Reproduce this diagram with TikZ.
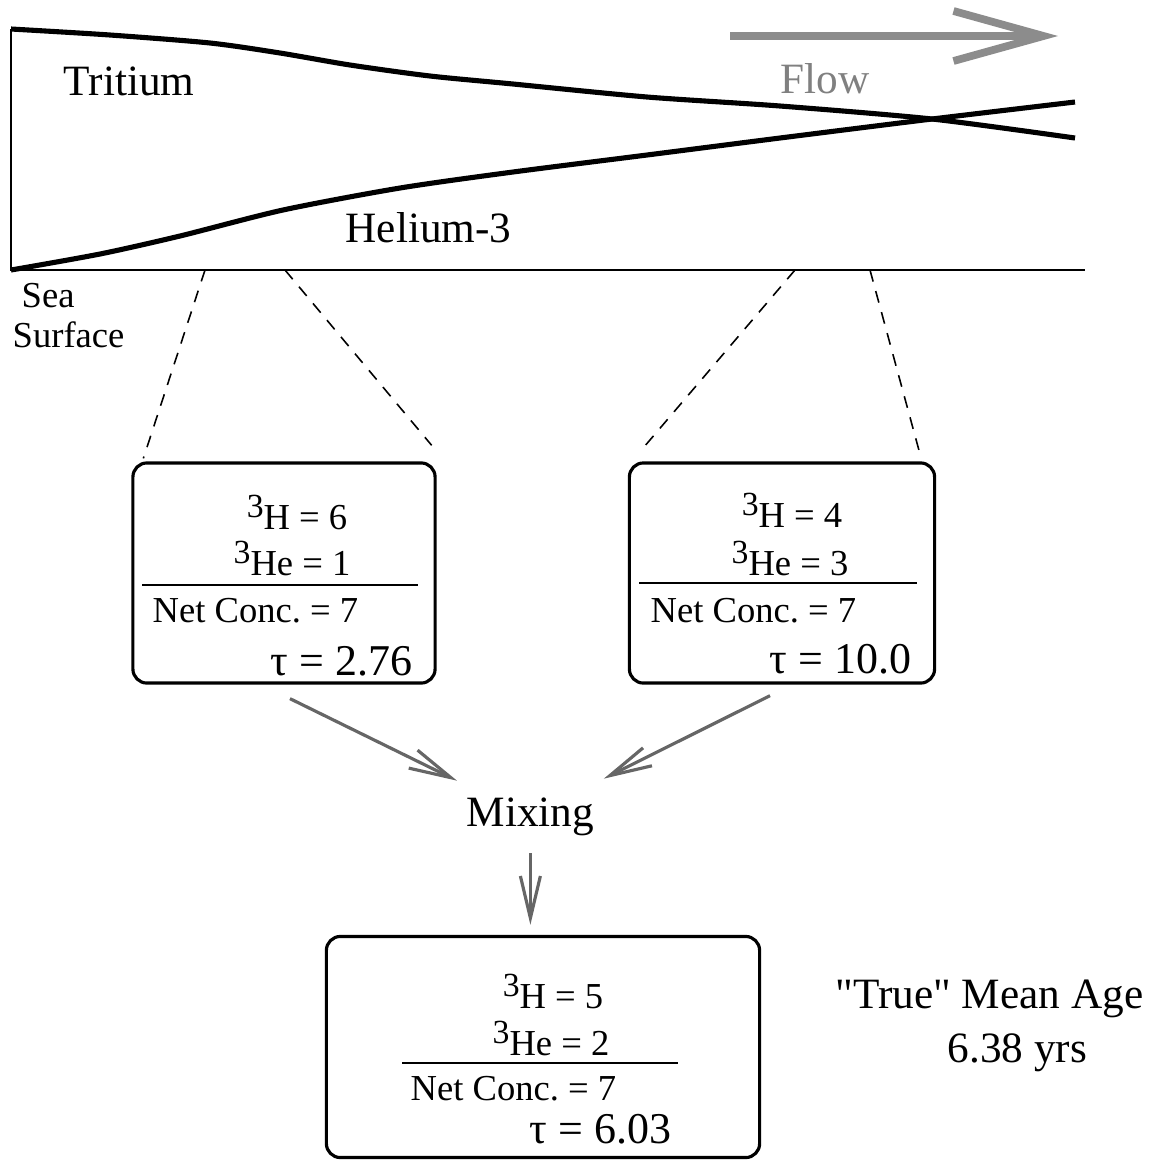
\documentclass[tikz,border=0pt]{standalone}
\usepackage{fontspec}
\setmainfont{Liberation Serif}
\usetikzlibrary{arrows.meta}
\frenchspacing

\newcommand{\isot}[1]{\raisebox{0.32em}{\fontsize{9.6}{10}\selectfont #1}}

\tikzset{
  lbl/.style={font=\fontsize{12.3}{14}\selectfont,inner sep=0pt},
  small/.style={font=\fontsize{10.4}{12}\selectfont,inner sep=0pt},
  tau/.style={font=\fontsize{12.5}{14}\selectfont,inner sep=0pt},
  rbox/.style={draw,rectangle,rounded corners=0.14cm,line width=0.9pt},
  zoomline/.style={dash pattern=on 3.4pt off 2.8pt,line width=0.45pt},
  mixarrow/.style={draw=black!60,line width=0.9pt,-{Straight Barb[length=0.42cm,width=0.2cm]}},
}

\begin{document}
\begin{tikzpicture}[x=0.01cm,y=-0.01cm]
\useasboundingbox (0,0) rectangle (1161,1163);

% section along the flow
\draw[line width=0.6pt] (11,29) -- (11,270) -- (1085,270);
\draw[line width=1.45pt] plot[smooth,tension=0.45] coordinates {(11,29) (110,35) (210,43) (280,53) (350,65) (430,76) (513,84) (647,97) (780,106) (932,119) (1075,138)};
\draw[line width=1.45pt] plot[smooth,tension=0.45] coordinates {(11,270) (100,254) (180,236) (283,210) (400,188) (513,172) (647,155) (780,138) (932,119) (1075,102)};

\node[lbl,anchor=base west] (trit) at (63,95){Tritium};
\node[lbl,anchor=base west] (hel) at (345,242){Helium-3};
\node[lbl,anchor=base west,text=black!50] (flow) at (780,93){Flow};
\node[small,anchor=base west] (sea) at (21,307){Sea};
\node[small,anchor=base west] (surf) at (12,347){Surface};

\coordinate (f0) at (730,36);
\coordinate (f1) at (1058,36);
\draw[black!45,line width=2.2pt,-{Straight Barb[length=0.9cm,width=0.5cm]}] (f0) -- (f1);

% samples
\node[rbox,minimum width=3.02cm,minimum height=2.2cm] (left) at (284,573){};
\node[rbox,minimum width=3.05cm,minimum height=2.2cm] (right) at (782,573){};
\node[rbox,minimum width=4.33cm,minimum height=2.21cm] (mixed) at (543,1047){};

\coordinate (s1) at (205,270);
\coordinate (s2) at (285,270);
\coordinate (s3) at (795,270);
\coordinate (s4) at (870,270);
\draw[zoomline] (s1) -- ([xshift=0.12cm,yshift=0.03cm]left.north west);
\draw[zoomline] (s2) -- ([xshift=-0.05cm,yshift=0.16cm]left.north east);
\draw[zoomline] (s3) -- ([xshift=0.15cm,yshift=0.13cm]right.north west);
\draw[zoomline] (s4) -- ([xshift=-0.15cm,yshift=0.03cm]right.north east);

% left box
\node[small,anchor=base] (lh) at (297,529){\isot{3}H = 6};
\node[small,anchor=base] (lhe) at (292,575){\isot{3}He = 1};
\draw[line width=0.6pt] (142,585) -- (418,585);
\node[small,anchor=base west] (lnet) at (152,622){Net Conc. = 7};
\node[tau,anchor=base east] (ltau) at (413,675){τ = 2.76};

% right box
\node[small,anchor=base] (rh) at (792,527){\isot{3}H = 4};
\node[small,anchor=base] (rhe) at (790,575){\isot{3}He = 3};
\draw[line width=0.6pt] (639,583) -- (917,583);
\node[small,anchor=base west] (rnet) at (650,622){Net Conc. = 7};
\node[tau,anchor=base east] (rtau) at (912,673){τ = 10.0};

% mixed box
\node[small,anchor=base] (mh) at (553,1008){\isot{3}H = 5};
\node[small,anchor=base] (mhe) at (551,1055){\isot{3}He = 2};
\draw[line width=0.6pt] (402,1063) -- (678,1063);
\node[small,anchor=base west] (mnet) at (410,1100){Net Conc. = 7};
\node[tau,anchor=base east] (mtau) at (672,1143){τ = 6.03};

\node[lbl,anchor=base west] (mix) at (466,826){Mixing};
\draw[mixarrow] ([xshift=0.06cm,yshift=-0.14cm]left.south) -- ([xshift=-0.09cm,yshift=0.16cm]mix.north west);
\draw[mixarrow] ([xshift=-0.12cm,yshift=-0.11cm]right.south) -- ([xshift=0.09cm,yshift=0.18cm]mix.north east);
\draw[mixarrow,shorten <=0.17cm,shorten >=0.1cm] (mix.south) -- (mix.south |- mixed.north);

\node[lbl,anchor=base west] (true) at (835,1008){\textquotedbl True\textquotedbl{} Mean Age};
\node[lbl,anchor=base west] (age) at (947,1062){6.38 yrs};

\end{tikzpicture}
\end{document}
